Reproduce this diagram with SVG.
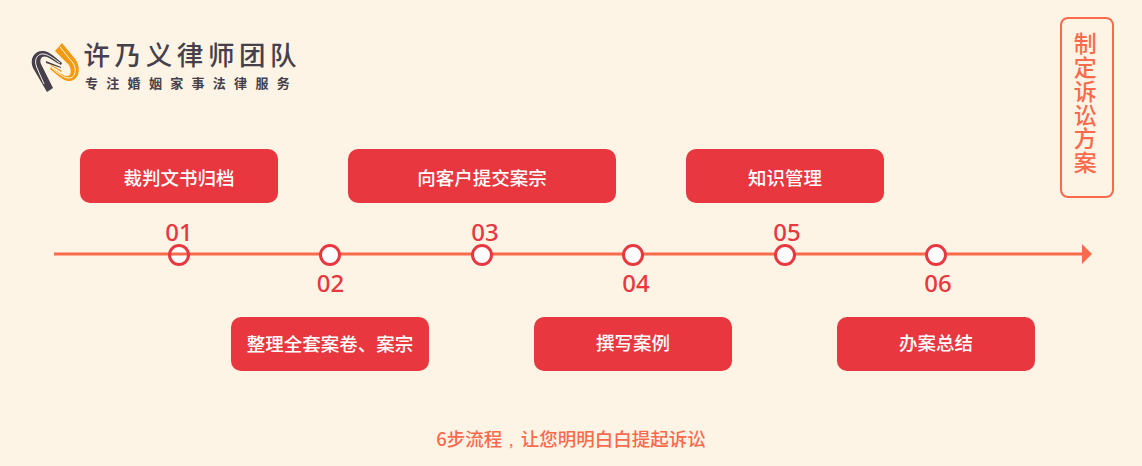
<svg xmlns="http://www.w3.org/2000/svg" width="1142" height="466" viewBox="0 0 1142 466">
<style>
text{font-family:"Noto Sans CJK SC","Liberation Sans",sans-serif}
.box{fill:#e93740}
.bt{fill:#fff;font-size:18.500px;font-weight:500;text-anchor:middle}
.num{fill:#e93740;font-size:24px;font-weight:500;text-anchor:middle;font-family:"Noto Sans","Open Sans",sans-serif}
.dot{fill:#fff;stroke:#e93740;stroke-width:3}
.lg{fill:#45404c}
.or{fill:#f39a11}
.slit{fill:none;stroke:#fef4e5;stroke-width:1}
</style>
<rect width="1142" height="466" fill="#fef4e5"/>
<g id="logo">
<path class="lg" d="M47 92L33 68C29 58 35 50 44 51C50 52 56 58 62 63L61 65C55 62 50 58 47 57C42 55 39 59 41 64L53 88Z"/>
<path class="slit" d="M44 84L37 68C33 59 38 53 44 54C50 55 55 60 60 63"/>
<path class="lg" d="M46 61L61 67L61 68L46 63Z"/>
<path class="or" d="M55 51L62 43L76 60C82 70 78 82 68 81C62 80 56 74 50 69L51 67C56 71 62 75 66 76C71 77 72 71 69 65Z"/>
<path class="slit" d="M60 47L73 63C78 71 74 79 68 78C62 77 56 72 52 68"/>
<path class="or" d="M50 64L62 71L61 72L50 65Z"/>
<text x="83.500" y="65" font-size="26.500" font-weight="500" letter-spacing="4.600" fill="#45404c">许乃义律师团队</text>
<text x="85" y="88" font-size="13" font-weight="700" letter-spacing="8.300" fill="#45404c">专注婚姻家事法律服务</text>
</g>
<g id="side-label">
<rect x="1061" y="18" width="52" height="179" rx="7" fill="none" stroke="#fb6a4d" stroke-width="2"/>
<text x="1085.200" y="32" font-size="23" font-weight="500" fill="#fb6a4d" letter-spacing="0.800" style="writing-mode:vertical-rl">制定诉讼方案</text>
</g>
<g id="connectors">
<path d="M54 254H1084" stroke="#fb6a4d" stroke-width="3" fill="none"/>
<path d="M1082 244L1092 254L1082 264Z" fill="#fb6a4d"/>
</g>
<g id="step-01"><rect class="box" x="80" y="149" width="198" height="54" rx="10"/><text class="bt" x="179" y="185">裁判文书归档</text><circle cx="179" cy="255" r="9.500" fill="#fff"/><path d="M169 254H189" stroke="#fb6a4d" stroke-width="3"/><circle cx="179" cy="255" r="9.500" fill="none" stroke="#e93740" stroke-width="3"/><text class="num" x="179" y="241">01</text></g>
<g id="step-02"><rect class="box" x="231" y="317" width="198" height="54" rx="10"/><text class="bt" x="330" y="351">整理全套案卷、案宗</text><circle class="dot" cx="330" cy="255" r="9.500"/><text class="num" x="330.500" y="292">02</text></g>
<g id="step-03"><rect class="box" x="348" y="149" width="268" height="54" rx="10"/><text class="bt" x="482" y="185">向客户提交案宗</text><circle class="dot" cx="482" cy="255" r="9.500"/><text class="num" x="485" y="241">03</text></g>
<g id="step-04"><rect class="box" x="534" y="317" width="198" height="54" rx="10"/><text class="bt" x="633" y="350">撰写案例</text><circle class="dot" cx="633" cy="255" r="9.500"/><text class="num" x="636" y="292">04</text></g>
<g id="step-05"><rect class="box" x="686" y="149" width="198" height="54" rx="10"/><text class="bt" x="785" y="185">知识管理</text><circle class="dot" cx="785" cy="255" r="9.500"/><text class="num" x="787" y="241">05</text></g>
<g id="step-06"><rect class="box" x="837" y="317" width="198" height="54" rx="10"/><text class="bt" x="936" y="350">办案总结</text><circle class="dot" cx="936" cy="255" r="9.500"/><text class="num" x="938" y="292">06</text></g>
<text id="caption" x="571" y="446" font-size="18.500" font-weight="500" fill="#fb6a4d" text-anchor="middle">6步流程<tspan dx="5.500" font-size="13">，</tspan>让您明明白白提起诉讼</text>
</svg>
